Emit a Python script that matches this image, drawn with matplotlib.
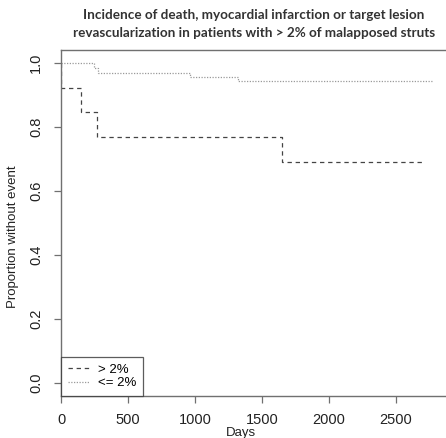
import matplotlib
matplotlib.use('Agg')
import matplotlib.pyplot as plt
from matplotlib import font_manager

# Kaplan-Meier steps
days_gt2 = [0, 2, 147, 271, 1651, 2692]
surv_gt2 = [1.0, 0.923, 0.846, 0.769, 0.692, 0.692]

days_le2 = [0, 245, 275, 963, 1321, 2766]
surv_le2 = [1.0, 0.985, 0.970, 0.957, 0.944, 0.944]

xticks = [0, 500, 1000, 1500, 2000, 2500]
yticks = [0.0, 0.2, 0.4, 0.6, 0.8, 1.0]

# regular (not narrow) Liberation Sans
reg = [f.fname for f in font_manager.fontManager.ttflist
       if f.name == 'Liberation Sans' and f.style == 'normal' and f.weight in (400, 'normal')]
fname = reg[0] if reg else None


def fprop(size):
    if fname:
        return font_manager.FontProperties(fname=fname, size=size)
    return font_manager.FontProperties(family='DejaVu Sans', size=size)


fp_tick = fprop(10.5)
fp_lab = fprop(9.5)
fp_leg = fprop(9.5)

W, H = 446, 438
fig = plt.figure(figsize=(W / 100, H / 100), dpi=100)
left, right, top, bottom = 61, 450, 50, 396
ax = fig.add_axes([left / W, 1 - bottom / H, (right - left) / W, (bottom - top) / H])

ax.step(days_gt2, surv_gt2, where='post', color='#444444', lw=0.9,
        linestyle=(0, (3.5, 3)), label='> 2%')
ax.step(days_le2, surv_le2, where='post', color='#9a9a9a', lw=0.9,
        linestyle=(0, (1, 1.2)), label='<= 2%')

ax.set_xlim(0, 2903)
ax.set_ylim(-0.0406, 1.0406)
ax.set_xticks(xticks)
ax.set_xticklabels([str(t) for t in xticks], fontproperties=fp_tick, color='#222222')
ax.set_yticks(yticks)
ax.set_yticklabels(['%.1f' % t for t in yticks], rotation=90, va='center',
                   fontproperties=fp_tick, color='#222222')

for s in ax.spines.values():
    s.set_color('#707070')
    s.set_linewidth(1.0)
ax.tick_params(direction='out', length=5, width=0.9, color='#707070', pad=7)
ax.tick_params(axis='y', pad=8)

fig.text(13 / W, 1 - 237 / H, 'Proportion without event', ha='center', va='center',
         rotation=90, fontproperties=fp_lab, color='#222222')
fig.text(241 / W, 1 - 433 / H, 'Days', ha='center', va='center',
         fontproperties=fp_lab, color='#222222')

leg = ax.legend(loc='lower left', bbox_to_anchor=(0, 0), borderaxespad=0,
                fancybox=False, frameon=True, prop=fp_leg, handlelength=1.6,
                handletextpad=0.7, borderpad=0.5, labelspacing=0.1)
leg.get_frame().set_edgecolor('#333333')
leg.get_frame().set_linewidth(0.9)

fig.text(254 / W, 1 - 15 / H,
         'Incidence of death, myocardial infarction or target lesion',
         ha='center', va='center', fontsize=9.7, fontweight='bold',
         family=['Lato', 'DejaVu Sans'], color='#333333')
fig.text(254 / W, 1 - 33 / H,
         'revascularization in patients with > 2% of malapposed struts',
         ha='center', va='center', fontsize=9.7, fontweight='bold',
         family=['Lato', 'DejaVu Sans'], color='#333333')

fig.savefig('out.png', dpi=100)
